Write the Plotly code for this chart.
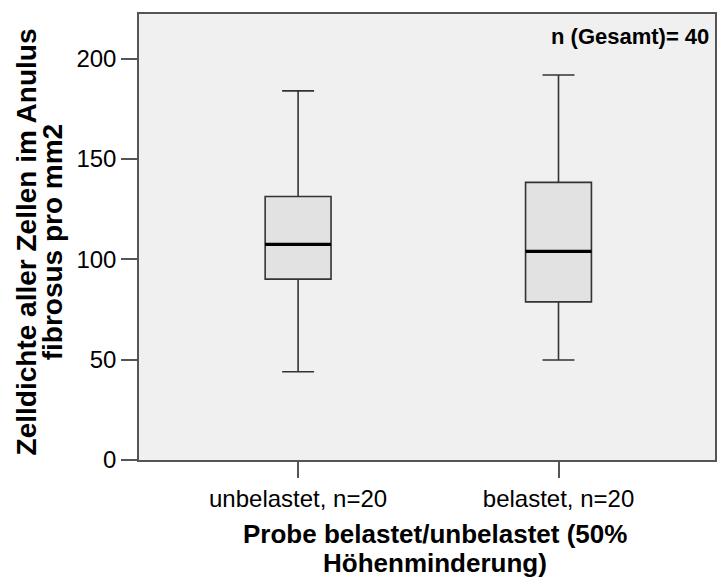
import plotly.graph_objects as go

# Cell density in the annulus fibrosus, by loading group
categories = ["unbelastet, n=20", "belastet, n=20"]
lower_whisker = [44.0, 49.8]
q1 = [90.1, 78.8]
median = [107.4, 103.9]
q3 = [131.3, 138.3]
upper_whisker = [183.9, 191.8]

y_ticks = [0, 50, 100, 150, 200]
y_title_lines = ["Zelldichte aller Zellen im Anulus", "fibrosus pro mm2"]
x_title_lines = ["Probe belastet/unbelastet (50%", "Höhenminderung)"]
total_label = "n (Gesamt)= 40"

W, H = 719, 579
ML, MR, MT, MB = 139, 2, 14, 119
PW, PH = W - ML - MR, H - MT - MB

FONT = "Liberation Sans, Arial, sans-serif"
BOX_W = 0.253
positions = list(range(len(categories)))


def px_x(px):
    return (px - ML) / PW


def px_y(py):
    return (H - MB - py) / PH


fig = go.Figure()

fig.add_trace(go.Box(
    x=positions,
    q1=q1, median=median, q3=q3,
    lowerfence=lower_whisker, upperfence=upper_whisker,
    width=BOX_W,
    whiskerwidth=0.485,
    fillcolor="#E2E2E2",
    line=dict(color="#333333", width=1.6),
    boxpoints=False,
    hoverinfo="skip",
    showlegend=False,
))

# heavy black median bars drawn over the boxes
for pos, med in zip(positions, median):
    fig.add_trace(go.Scatter(
        x=[pos - BOX_W / 2, pos + BOX_W / 2], y=[med, med],
        mode="lines", line=dict(color="black", width=3.2),
        hoverinfo="skip", showlegend=False,
    ))

axis_common = dict(
    showline=True, linecolor="#555555", linewidth=1.5, mirror=True,
    ticks="outside", ticklen=16, tickwidth=1.5, tickcolor="#555555",
    showgrid=False, zeroline=False,
    tickfont=dict(family=FONT, size=24, color="black"),
)

fig.update_xaxes(
    range=[-0.611, 1.601],
    tickvals=positions, ticktext=categories,
    **axis_common,
)
fig.update_yaxes(
    range=[0, 222.2],
    tickvals=y_ticks,
    **axis_common,
)

annotations = []
# y-axis title, two tightly spaced lines
for text, cx in zip(y_title_lines, [27, 53]):
    annotations.append(dict(
        text=text, xref="paper", yref="paper",
        x=px_x(cx), y=px_y(242), xanchor="center", yanchor="middle",
        textangle=-90, showarrow=False,
        font=dict(family=FONT, size=28, color="black", weight="bold"),
    ))
# x-axis title, two tightly spaced lines
for text, cy in zip(x_title_lines, [534, 563]):
    annotations.append(dict(
        text=text, xref="paper", yref="paper",
        x=px_x(436), y=px_y(cy), xanchor="center", yanchor="middle",
        showarrow=False,
        font=dict(family=FONT, size=26, color="black", weight="bold"),
    ))
annotations.append(dict(
    text=total_label, xref="paper", yref="paper",
    x=px_x(713), y=px_y(36), xanchor="right", yanchor="middle",
    showarrow=False,
    font=dict(family=FONT, size=22, color="black", weight="bold"),
))

fig.update_layout(
    width=W, height=H,
    margin=dict(l=ML, r=MR, t=MT, b=MB),
    paper_bgcolor="white",
    plot_bgcolor="#F0F0F0",
    annotations=annotations,
)

fig.write_html("out.html")
